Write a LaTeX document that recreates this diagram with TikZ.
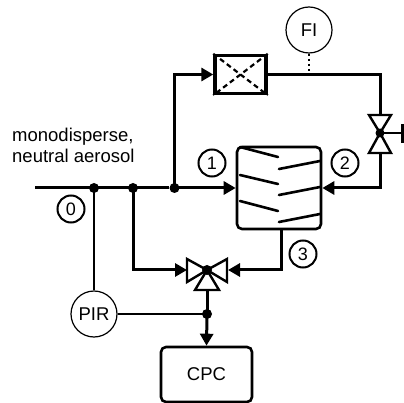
\documentclass[tikz,border=0pt]{standalone}
\usepackage{fontspec}
\setmainfont{Liberation Sans}
\usetikzlibrary{arrows.meta}
\tikzset{
  x=1pt,y=-1pt,
  pipe/.style={line width=3pt,line cap=butt,line join=miter},
  pipearrow/.style={pipe,-{Triangle[length=12pt,width=13pt]}},
  thinline/.style={line width=1.2pt},
  junction/.style={circle,fill=black,inner sep=0pt,minimum size=10pt},
  instr/.style={circle,draw,line width=1.2pt,inner sep=0pt,minimum size=46pt,font=\fontsize{18.5}{22}\selectfont},
  numlabel/.style={circle,draw,line width=2pt,inner sep=0pt,minimum size=27pt,font=\fontsize{18}{22}\selectfont},
  valvetri/.style={draw,line width=2.4pt,fill=white,line join=miter},
  fin/.style={line width=2.6pt,line cap=round},
}
\begin{document}
\begin{tikzpicture}
\useasboundingbox (0,0) rectangle (404,403);
% anchors
\coordinate (start) at (35,188);
\node[junction] (j0) at (94,188) {};
\node[junction] (j1) at (133,188) {};
\node[junction] (j2) at (174.5,188) {};
\coordinate (c2) at (380,74.5);
\coordinate (c3) at (380,188);
\coordinate (c5) at (281,270);
\coordinate (fitap) at (309,74.5);
% conditioner
\node[draw,line width=2.6pt,rounded corners=5pt,minimum width=84pt,minimum height=82pt,inner sep=0pt] (cond) at (279,188) {};
% flow element
\node[draw,line width=3.4pt,minimum width=51pt,minimum height=38pt,inner sep=0pt] (flow) at (240.5,74.5) {};
\draw[line width=2.2pt,dash pattern=on 5pt off 3.5pt] (flow.north west) -- (flow.south east);
\draw[line width=2.2pt,dash pattern=on 5pt off 3.5pt] (flow.north east) -- (flow.south west);
% CPC
\node[draw,line width=2.6pt,rounded corners=5pt,minimum width=91pt,minimum height=55pt,inner sep=0pt,font=\fontsize{18.5}{22}\selectfont] (cpc) at (206.5,374.5) {CPC};
% instruments
\node[instr] (fi) at (309,30) {FI};
\node[instr] (pir) at (94,314) {PIR};
\node[junction] (j3) at (207,314) {};
% valves
\coordinate (v1) at (380,133);
\coordinate (v1t) at (380,115);
\coordinate (v1b) at (380,153);
\coordinate (v1h) at (402,133);
\coordinate (v2) at (207,270);
\coordinate (v2l) at (187,270);
\coordinate (v2r) at (228,270);
\coordinate (v2b) at (207,290);
% pipes
\draw[pipe] (start) -- (j2);
\draw[pipearrow] (j2.center) -- (cond.west);
\draw[pipearrow] (j2.center) |- (flow.west);
\draw[pipe] (flow.east) -- (fitap) -- (c2) -- (v1t);
\draw[pipearrow] (v1b) -- (c3) -- (cond.east);
\draw[pipearrow] (j1.center) |- (v2l);
\draw[pipearrow] (cond.south -| c5) -- (c5) -- (v2r);
\draw[pipe] (v2b) -- (j3.center);
\draw[pipearrow] (j3.center) -- (cpc.north);
\draw[line width=2.6pt,dash pattern=on 2.5pt off 2.5pt] (fi.south) -- (fitap);
\draw[thinline] (j0.center) -- (pir.north);
\draw[thinline] (pir.east) -- (j3.center);
% valve bodies
\draw[valvetri] (v1) -- (369,115) -- (391,115) -- cycle;
\draw[valvetri] (v1) -- (369,153) -- (391,153) -- cycle;
\draw[line width=2.4pt] (v1) -- (v1h);
\draw[line width=2.4pt] (402.5,124) -- (402.5,143);
\node[junction,minimum size=9pt] (v1c) at (v1) {};
\draw[valvetri] (v2) -- (187,259) -- (187,282) -- cycle;
\draw[valvetri] (v2) -- (227,259) -- (227,282) -- cycle;
\draw[valvetri] (v2) -- (195,290) -- (219,290) -- cycle;
\node[junction] (v2c) at (v2) {};
% fins
\draw[fin] (240,147) -- (278,157);
\draw[fin] (240,175) -- (278,184);
\draw[fin] (240,201) -- (278,211);
\draw[fin] (320,161) -- (279,169);
\draw[fin] (320,187) -- (279,195);
\draw[fin] (320,214) -- (279,222);
% labels
\node[numlabel] (n0) at (71,209) {0};
\node[numlabel] (n1) at (212,163) {1};
\node[numlabel] (n2) at (345,163) {2};
\node[numlabel] (n3) at (303,254) {3};
\node[anchor=base west,inner sep=0pt,font=\fontsize{18.5}{22}\selectfont] (t1) at (12,142) {monodisperse,};
\node[anchor=base west,inner sep=0pt,font=\fontsize{18.5}{22}\selectfont] (t2) at (12,163) {neutral aerosol};
\end{tikzpicture}
\end{document}
